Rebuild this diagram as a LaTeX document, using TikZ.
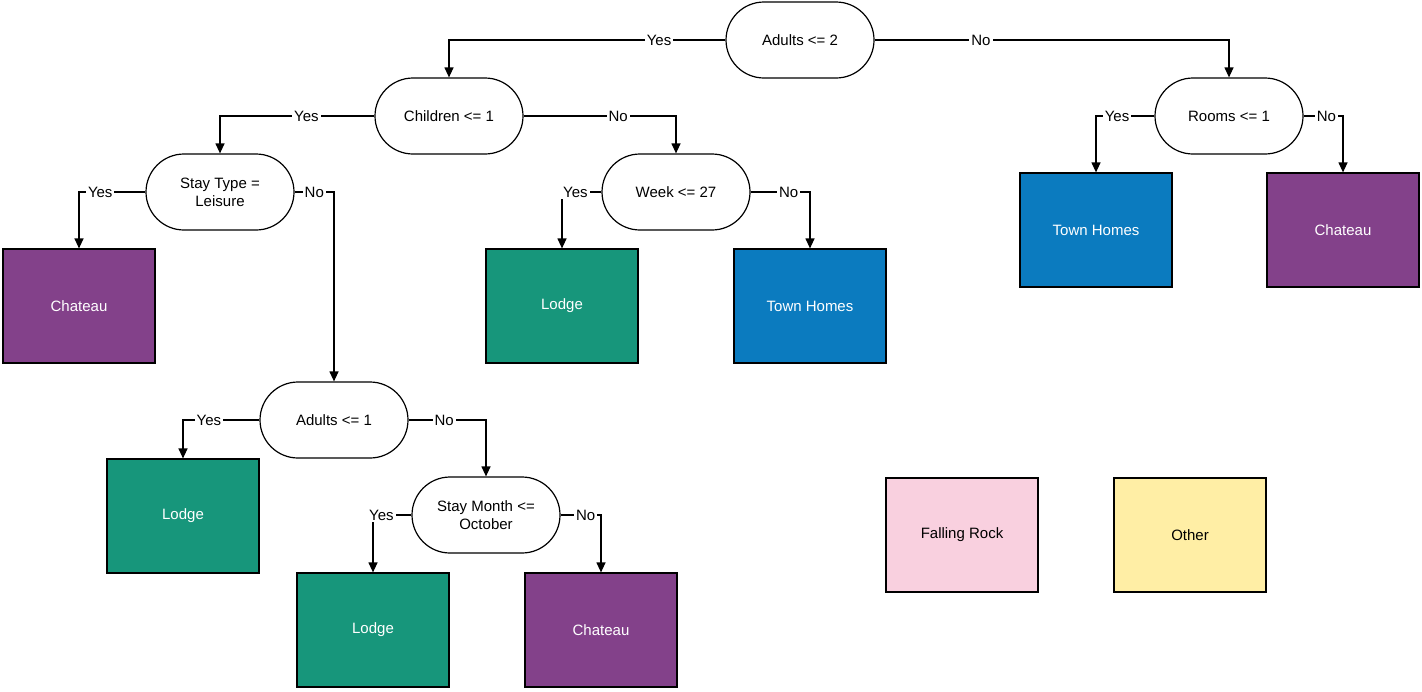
\documentclass[tikz,border=0pt]{standalone}
\usepackage{fontspec}
\setmainfont{Liberation Sans}
\usetikzlibrary{shapes.misc,arrows.meta}
\definecolor{cpurple}{HTML}{83418A}
\definecolor{cteal}{HTML}{17967B}
\definecolor{cblue}{HTML}{0B7BBF}
\definecolor{cpink}{HTML}{F9D0DF}
\definecolor{cyellow}{HTML}{FFEEA5}
\begin{document}
\begin{tikzpicture}[x=0.5pt,y=-0.5pt,
  dec/.style={draw,rounded rectangle,minimum width=76pt,minimum height=38pt,inner sep=1pt,font=\fontsize{7.5}{9}\selectfont,align=center,line width=0.6pt},
  leaf/.style={draw,minimum width=76pt,minimum height=57pt,font=\fontsize{7.5}{9}\selectfont,text=white,line width=0.6pt},
  edge/.style={draw,line width=0.6pt,-{Triangle[length=5pt,width=4.5pt]}},
  lab/.style={fill=white,inner sep=1pt,font=\fontsize{7.5}{9}\selectfont}]
\useasboundingbox (0,0) rectangle (1422,691);
\node[dec] (A) at (800,40) {Adults <= 2};
\node[dec] (C) at (449,116) {Children <= 1};
\node[dec] (S) at (220,192) {Stay Type =\\Leisure};
\node[dec] (W) at (676,192) {Week <= 27};
\node[dec] (R) at (1229,116) {Rooms <= 1};
\node[dec] (A1) at (334,420) {Adults <= 1};
\node[dec] (M) at (486,515) {Stay Month <=\\October};
\node[leaf,fill=cpurple] (L1) at (79,306) {Chateau};
\node[leaf,fill=cteal] (L2) at (562,306) {Lodge};
\node[leaf,fill=cblue] (L3) at (810,306) {Town Homes};
\node[leaf,fill=cblue] (L4) at (1096,230) {Town Homes};
\node[leaf,fill=cpurple] (L5) at (1343,230) {Chateau};
\node[leaf,fill=cteal] (L6) at (183,516) {Lodge};
\node[leaf,fill=cteal] (L7) at (373,630) {Lodge};
\node[leaf,fill=cpurple] (L8) at (601,630) {Chateau};
\node[leaf,fill=cpink,text=black] (L9) at (962,535) {Falling Rock};
\node[leaf,fill=cyellow,text=black] (L10) at (1190,535) {Other};
\draw[edge] (A.west) -| node[lab,pos=0.12]{Yes} (C.north);
\draw[edge] (A.east) -| node[lab,pos=0.15]{No} (R.north);
\draw[edge] (C.west) -| node[lab,pos=0.22]{Yes} (S.north);
\draw[edge] (C.east) -| node[lab,pos=0.31]{No} (W.north);
\draw[edge] (S.west) -| node[lab,pos=0.34]{Yes} (L1.north);
\draw[edge] (S.east) -| node[lab,pos=0.25]{No} (A1.north);
\draw[edge] (W.west) -| node[lab,pos=0.33]{Yes} (L2.north);
\draw[edge] (W.east) -| node[lab,pos=0.32]{No} (L3.north);
\draw[edge] (R.west) -| node[lab,pos=0.32]{Yes} (L4.north);
\draw[edge] (R.east) -| node[lab,pos=0.29]{No} (L5.north);
\draw[edge] (A1.west) -| node[lab,pos=0.33]{Yes} (L6.north);
\draw[edge] (A1.east) -| node[lab,pos=0.23]{No} (M.north);
\draw[edge] (M.west) -| node[lab,pos=0.39]{Yes} (L7.north);
\draw[edge] (M.east) -| node[lab,pos=0.31]{No} (L8.north);
\end{tikzpicture}
\end{document}
